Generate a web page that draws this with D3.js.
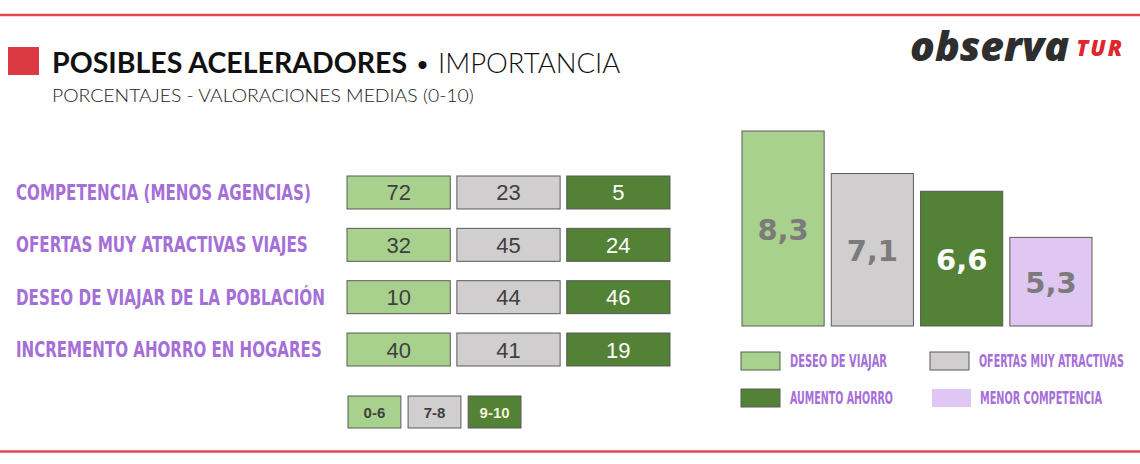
<!DOCTYPE html>
<html>
<head>
<meta charset="utf-8">
<script src="https://cdn.jsdelivr.net/npm/d3@7"></script>
<style>
  html, body { margin: 0; padding: 0; background: #fff; }
  svg { display: block; }
</style>
</head>
<body>
<svg id="chart" width="1140" height="464"></svg>
<script>
// ---------- DATA ----------
const categories = [
  "COMPETENCIA (MENOS AGENCIAS)",
  "OFERTAS MUY ATRACTIVAS VIAJES",
  "DESEO DE VIAJAR DE LA POBLACIÓN",
  "INCREMENTO AHORRO EN HOGARES"
];
const bands = ["0-6", "7-8", "9-10"];
const pct0to6 = [72, 32, 10, 40];
const pct7to8 = [23, 45, 44, 41];
const pct9to10 = [5, 24, 46, 19];

const meanLabels = ["DESEO DE VIAJAR", "OFERTAS MUY ATRACTIVAS", "AUMENTO AHORRO", "MENOR COMPETENCIA"];
const meanValues = [8.3, 7.1, 6.6, 5.3];

// ---------- LAYOUT / STYLE ----------
const labelFit = [295, 292, 309, 306];     // rendered widths of the condensed row labels
const legendFit = [97, 145, 103, 122];     // rendered widths of the condensed legend labels
const legPos = [[741, 352], [930, 352], [741, 389], [932, 389]];
const purple = "#a56fd8";
const bandColors = ["#a9d18e", "#d0cece", "#538135"];
const bandText = ["#3f3f3f", "#3f3f3f", "#ffffff"];
const meanColors = ["#a9d18e", "#d0cece", "#538135", "#e0c7f3"];
const meanText = ["#7b7b7b", "#7b7b7b", "#ffffff", "#7b7b7b"];
const condensed = "'DejaVu Sans Condensed', 'DejaVu Sans', sans-serif";

const svg = d3.select("#chart");

// squeeze a text horizontally so it spans the given width (condensed display face)
function fitWidth(sel, widthOf, xOf, yOf) {
  sel.each(function (d, i) {
    const w = this.getComputedTextLength();
    const k = w > 0 ? widthOf(d, i) / w : 1;
    d3.select(this).attr("x", 0).attr("y", 0)
      .attr("transform", `translate(${xOf(d, i)},${yOf(d, i)}) scale(${k},1)`);
  });
}

// red rules
svg.append("line").attr("x1", 0).attr("x2", 1140).attr("y1", 15).attr("y2", 15)
  .attr("stroke", "#e2474d").attr("stroke-width", 2.5);
svg.append("line").attr("x1", 0).attr("x2", 1140).attr("y1", 451.5).attr("y2", 451.5)
  .attr("stroke", "#e2474d").attr("stroke-width", 2.5);

// title
svg.append("rect").attr("x", 8).attr("y", 47).attr("width", 31).attr("height", 28).attr("fill", "#dc3a42");
const title = svg.append("text").attr("x", 52).attr("y", 73)
  .style("font-family", "Lato, 'Open Sans', sans-serif").attr("fill", "#111");
title.append("tspan").text("POSIBLES ACELERADORES").style("font-weight", 700).style("font-size", "28.5px");
title.append("tspan").text(" • IMPORTANCIA").style("font-weight", 300).style("font-size", "27.5px");
const sub = svg.append("text").text("PORCENTAJES - VALORACIONES MEDIAS (0-10)")
  .style("font-family", "Lato, 'Open Sans', sans-serif").style("font-size", "18px").style("font-weight", 300)
  .attr("fill", "#222");
fitWidth(sub, () => 422, () => 52, () => 102);

// logo
const logo = svg.append("text").attr("x", 910).attr("y", 61)
  .style("font-family", "'Open Sans', sans-serif").style("font-style", "italic").style("font-weight", 800);
logo.append("tspan").text("observa").attr("fill", "#2e2e2e").style("font-size", "41px");
logo.append("tspan").text("TUR").attr("fill", "#e0252d").style("font-size", "22px")
  .style("letter-spacing", "2px").attr("dx", 7).attr("dy", -5);

// ---------- LEFT TABLE ----------
const rows = categories.map((c, i) => ({ cat: c, vals: [pct0to6[i], pct7to8[i], pct9to10[i]] }));
const x = d3.scaleBand().domain(bands).range([347, 670]).paddingInner(0.06);
const y = d3.scaleBand().domain(categories).range([176, 366]).paddingInner(0.37);

const rowLabels = svg.append("g").selectAll("text").data(categories).join("text")
  .text(d => d)
  .style("font-family", condensed).style("font-stretch", "condensed")
  .style("font-weight", 700).style("font-size", "22px")
  .attr("fill", purple);
fitWidth(rowLabels, (d, i) => labelFit[i], () => 16, d => y(d) + y.bandwidth() / 2 + 7.5);

const rowG = svg.append("g").selectAll("g").data(rows).join("g")
  .attr("transform", d => `translate(0,${y(d.cat)})`);
const cells = rowG.selectAll("g").data(d => d.vals.map((v, j) => ({ band: bands[j], v, j }))).join("g");
cells.append("rect")
  .attr("x", d => x(d.band)).attr("y", 0)
  .attr("width", x.bandwidth()).attr("height", y.bandwidth())
  .attr("fill", d => bandColors[d.j]).attr("stroke", "#5a5a5a").attr("stroke-width", 1);
cells.append("text")
  .attr("x", d => x(d.band) + x.bandwidth() / 2).attr("y", y.bandwidth() / 2 + 8)
  .attr("text-anchor", "middle").text(d => d.v)
  .style("font-family", "'Liberation Sans', Arial, sans-serif").style("font-size", "22px")
  .attr("fill", d => bandText[d.j]);

// band legend
const lx = d3.scaleBand().domain(bands).range([348, 521]).paddingInner(0.12);
const lg = svg.append("g").selectAll("g").data(bands).join("g");
lg.append("rect").attr("x", d => lx(d)).attr("y", 396).attr("width", lx.bandwidth()).attr("height", 32)
  .attr("fill", (d, i) => bandColors[i]).attr("stroke", "#5a5a5a");
lg.append("text").attr("x", d => lx(d) + lx.bandwidth() / 2).attr("y", 417.5).attr("text-anchor", "middle")
  .text(d => d).style("font-family", "'Liberation Sans', Arial, sans-serif").style("font-weight", 700)
  .style("font-size", "15px").attr("fill", (d, i) => i === 2 ? "#f3f3d8" : "#3f3f3f");

// ---------- RIGHT BARS ----------
const bx = d3.scaleBand().domain(meanLabels).range([742, 1092]).paddingInner(0.08);
const by = d3.scaleLinear().domain([2.8, 8.3]).range([326, 131]);
const bars = svg.append("g").selectAll("g").data(meanLabels.map((l, i) => ({ l, v: meanValues[i], i }))).join("g");
bars.append("rect")
  .attr("x", d => bx(d.l)).attr("y", d => by(d.v))
  .attr("width", bx.bandwidth()).attr("height", d => by.range()[0] - by(d.v))
  .attr("fill", d => meanColors[d.i]).attr("stroke", "#5a5a5a").attr("stroke-width", 1);
bars.append("text")
  .attr("x", d => bx(d.l) + bx.bandwidth() / 2)
  .attr("y", d => (by(d.v) + by.range()[0]) / 2 + 11)
  .attr("text-anchor", "middle")
  .text(d => d3.format(".1f")(d.v).replace(".", ","))
  .style("font-family", "'DejaVu Sans', sans-serif").style("font-weight", 700).style("font-size", "29px")
  .attr("fill", d => meanText[d.i]);

// mean legend
const ml = svg.append("g").selectAll("g").data(meanLabels).join("g")
  .attr("transform", (d, i) => `translate(${legPos[i][0]},${legPos[i][1]})`);
ml.append("rect").attr("width", 39).attr("height", 18)
  .attr("fill", (d, i) => meanColors[i]).attr("stroke", (d, i) => i === 3 ? "none" : "#5a5a5a");
const mlText = ml.append("text").text(d => d)
  .style("font-family", condensed).style("font-stretch", "condensed")
  .style("font-weight", 700).style("font-size", "18px").attr("fill", purple);
fitWidth(mlText, (d, i) => legendFit[i], (d, i) => i === 3 ? 48 : 49, () => 15);
</script>
</body>
</html>
